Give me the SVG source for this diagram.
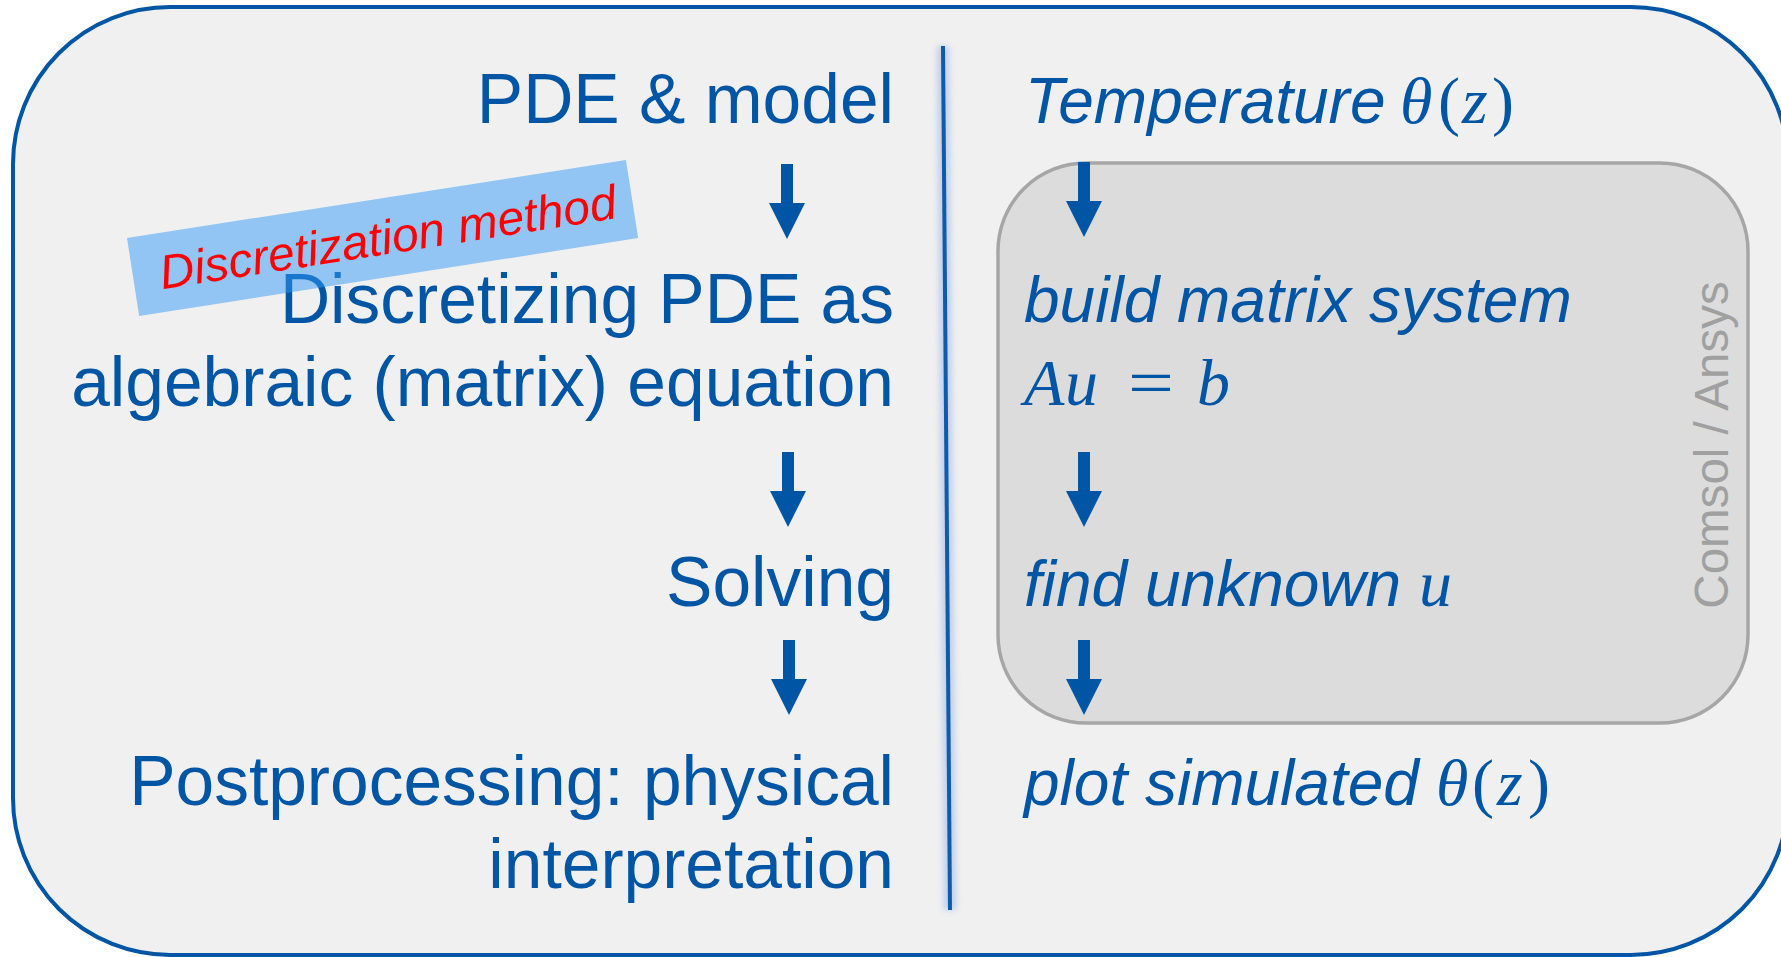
<svg xmlns="http://www.w3.org/2000/svg" width="1781" height="957" viewBox="0 0 1781 957">
<style>
.lt{font-family:"Liberation Sans",Arial,sans-serif;font-size:69.5px;fill:#0055A4;text-anchor:end}
.rt{font-family:"Liberation Sans",Arial,sans-serif;font-size:64px;font-style:italic;fill:#0055A4}
.m{font-family:"Liberation Serif","Times New Roman",serif;font-size:66px;fill:#0055A4}
.mi{font-style:italic}
.arr{fill:#0055A4}
</style>
<defs>
<path id="arrow" d="M-6,0 H6 V39 H18 L0,75 L-18,39 H-6 Z"/>
<filter id="glow" x="-200%" y="-5%" width="500%" height="110%"><feGaussianBlur stdDeviation="3"/></filter>
</defs>
<rect width="1781" height="957" fill="#FFFFFF"/>
<g id="frame">
<rect x="13" y="7" width="1775" height="948" rx="157" ry="157" fill="#F0F0F0" stroke="#0055A4" stroke-width="4"/>
</g>
<g id="divider">
<line x1="943" y1="46" x2="950" y2="910" stroke="#9DB8E8" stroke-width="12" opacity="0.6" filter="url(#glow)"/>
<line x1="943" y1="46" x2="950" y2="910" stroke="#0F5BAA" stroke-width="4"/>
</g>
<g id="solver-box">
<rect x="998" y="163" width="750" height="560" rx="88" ry="88" fill="#DCDCDC" stroke="#A6A6A6" stroke-width="3.5"/>
<text transform="translate(1728,445) rotate(-90)" text-anchor="middle" font-family="Liberation Sans, Arial, sans-serif" font-size="47.5" fill="#A0A0A0">Comsol / Ansys</text>
</g>
<g id="pde-model"><text class="lt" x="894" y="123">PDE &amp; model</text></g>
<g id="discretizing">
<text class="lt" x="894" y="323">Discretizing PDE as</text>
<text class="lt" x="894" y="406">algebraic (matrix) equation</text>
</g>
<g id="solving"><text class="lt" x="894" y="606">Solving</text></g>
<g id="postprocessing">
<text class="lt" x="894" y="805">Postprocessing: physical</text>
<text class="lt" x="894" y="888">interpretation</text>
</g>
<g id="discretization-method" transform="translate(127,238) rotate(-8.88)">
<rect x="0" y="0" width="505" height="79" fill="#3399F7" fill-opacity="0.5"/>
<text x="27" y="56" font-family="Liberation Sans, Arial, sans-serif" font-size="48" font-style="italic" fill="#FF0000">Discretization method</text>
</g>
<g id="temperature">
<text class="rt" x="1025" y="123">Temperature</text>
<text class="m" y="123"><tspan class="mi" x="1400">θ</tspan><tspan x="1438">(</tspan><tspan class="mi" x="1462">z</tspan><tspan x="1492">)</tspan></text>
</g>
<g id="build-matrix">
<text class="rt" x="1024" y="322">build matrix system</text>
<text class="m" y="405" font-size="70"><tspan class="mi" x="1024">A</tspan><tspan class="mi" x="1065">u</tspan><tspan x="1128" textLength="46" lengthAdjust="spacingAndGlyphs">=</tspan><tspan class="mi" x="1197">b</tspan></text>
</g>
<g id="find-unknown">
<text class="rt" x="1024" y="606">find unknown</text>
<text class="m mi" x="1419" y="606" font-size="68">u</text>
</g>
<g id="plot-simulated">
<text class="rt" x="1024" y="805">plot simulated</text>
<text class="m" y="805"><tspan class="mi" x="1436">θ</tspan><tspan x="1472">(</tspan><tspan class="mi" x="1497">z</tspan><tspan x="1528">)</tspan></text>
</g>
<g id="connectors" class="arr">
<use href="#arrow" x="787" y="164"/>
<use href="#arrow" x="788" y="452"/>
<use href="#arrow" x="789" y="640"/>
<use href="#arrow" x="1084" y="162"/>
<use href="#arrow" x="1084" y="452"/>
<use href="#arrow" x="1084" y="640"/>
</g>
</svg>
